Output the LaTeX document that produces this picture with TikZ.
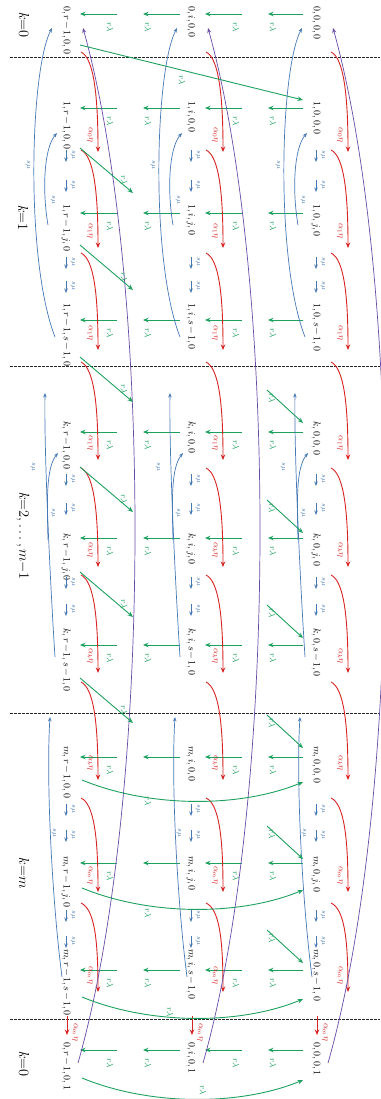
\documentclass[tikz,border=0pt]{standalone}
\usetikzlibrary{arrows.meta}
\definecolor{gr}{RGB}{30,160,95}
\definecolor{rd}{RGB}{215,35,35}
\definecolor{bl}{RGB}{70,120,180}
\definecolor{pu}{RGB}{105,75,165}
\newcommand{\stt}[1]{$\medmuskip=2mu\relax #1$}
\begin{document}
\begin{tikzpicture}[x=1pt,y=-1pt,
  st/.style={rotate=-90,anchor=west,inner sep=0pt,font=\fontsize{10}{12}\selectfont},
  rl/.style={rotate=-90,inner sep=0pt,text=gr,font=\fontsize{9}{10}\selectfont},
  al/.style={rotate=-90,inner sep=0pt,text=rd,font=\fontsize{9}{10}\selectfont},
  sl/.style={rotate=-90,inner sep=0pt,text=bl,font=\fontsize{7.5}{8}\selectfont},
  kl/.style={rotate=-90,inner sep=0pt,font=\fontsize{14}{16}\selectfont},
  garr/.style={draw=gr,line width=0.9pt,-{Stealth[length=5.5pt,width=4.5pt]}},
  rarr/.style={draw=rd,line width=0.9pt,-{Stealth[length=5.5pt,width=4.5pt]}},
  barr/.style={draw=bl,line width=0.7pt,-{Stealth[length=4.5pt,width=3.5pt]}},
  parr/.style={draw=pu,line width=0.7pt,-{Stealth[length=5pt,width=4pt]}},
  dline/.style={draw=black!85,line width=1pt,dash pattern=on 2.5pt off 1.5pt},
]
\useasboundingbox (0,0) rectangle (380,1099);
% dashed separators
\foreach \y in {58,366,713,1019} \draw[dline] (10,\y) -- (380,\y);
% level labels
\node[kl] (k0a) at (24,25) {$k{=}0$};
\node[kl] (k1) at (23,218) {$k{=}1$};
\node[kl] (kk) at (23,536) {$k{=}2,\ldots,m{-}1$};
\node[kl] (km) at (24,873) {$k{=}m$};
\node[kl] (k0b) at (24,1064) {$k{=}0$};
% states
\foreach \r/\y/\p/\q in {1/6/0/{0,0},2/101/1/{0,0},3/204/1/{j,0},4/303/1/{s-1,0},
  5/421/k/{0,0},6/533/k/{j,0},7/628/k/{s-1,0},8/746/m/{0,0},9/856/m/{j,0},
  10/949/m/{s-1,0},11/1042/0/{0,1}}{
  \node[st] (n\r a) at (66,\y) {\stt{\p,r-1,\q}};
  \node[st] (n\r b) at (191,\y) {\stt{\p,i,\q}};
  \node[st] (n\r c) at (316,\y) {\stt{\p,0,\q}};
}
% green vertical r lambda arrows
\foreach \g/\sh in {14/1,108/1,213/1,320/1,432/1,538/1,645/1,757/0,863/0,970/1,1050/1}{
  \draw[garr] (117,\g) -- (80,\g);
  \draw[garr] (180,\g) -- (143,\g);
  \draw[garr] (242,\g) -- (205,\g);
  \draw[garr] (303,\g) -- (268,\g);
  \node[rl] at (110,\g+13) {$r\lambda$};
  \ifnum\sh=1 \node[rl] at (148,\g+13) {$r\lambda$};\fi
  \node[rl] at (236,\g+13) {$r\lambda$};
  \node[rl] at (273,\g+13) {$r\lambda$};
}
% per-column items
\foreach \dx in {0,125,250}{
\begin{scope}[xshift=\dx pt]
  % red curved alpha arrows
  \foreach \sy/\ey/\lab in {52/152/0,150/248/1,253/350/1,362/460/1,468/567/k,575/673/k,682/780/k,798/892/m,903/992/m}{
    \draw[rarr] (81,\sy) .. controls +(13,6) and +(0,-55) .. (98,\ey);
    \node[al] at (90,\ey-17) {$\alpha_{\lab}\eta$};
  }
  \draw[rarr] (67,1016) -- (67,1035);
  \node[al] at (75,1032) {$\alpha_{m}\eta$};
  % purple long arcs
  \draw[parr] (78,1063) .. controls (153,800) and (153,280) .. (83,28);
  % small s mu arrows
  \foreach \a in {150,180,257,281,474,503,577,604,804,830,910,936}{
    \draw[barr] (66,\a) -- (66,\a+12);
    \node[sl] at (73,\a+5) {$s\mu$};
  }
  % blue arcs, level 1
  \draw[barr] (48,225) .. controls (42,190) and (44,148) .. (57,133);
  \node[sl] at (53,200) {$s\mu$};
  \draw[barr] (55,337) .. controls (25,260) and (30,70) .. (52,28);
  \node[sl] at (28,165) {$s\mu$};
  % blue arcs, level k
  \draw[barr] (48,540) .. controls (47,500) and (46,468) .. (58,453);
  \node[sl] at (53,513) {$s\mu$};
  \draw[barr] (55,657) .. controls (50,580) and (44,450) .. (45,393);
  \node[sl] at (33,467) {$s\mu$};
  % blue arcs, level m
  \draw[barr] (62,977) .. controls (52,900) and (46,780) .. (50,717);
  \node[sl] at (54,833) {$s\mu$};
\end{scope}
}
% green diagonal arrows out of r-1 states
\draw[garr] (80,45) -- (303,100);
\node[rl] at (182,80) {$r\lambda$};
\foreach \a in {148,245,357,467,572,678}{
  \draw[garr] (80,\a) -- (133,\a+45);
  \node[rl] at (124,\a+32) {$r\lambda$};
}
% green diagonal arrows into 0 states
\foreach \b in {390,500,605,715,826,930}{
  \draw[garr] (267,\b) -- (303,\b+33);
  \node[rl] at (272,\b+8) {$r\lambda$};
}
% green curved arrows at level m and k=0
\foreach \s in {780,888,997,1078}{
  \draw[garr] (82,\s) .. controls (150,\s+28) and (240,\s+28) .. (303,\s+2);
}
\node[rl] at (148,801) {$r\lambda$};
\node[rl] at (148,913) {$r\lambda$};
\node[rl] at (170,1012) {$r\lambda$};
\node[rl] at (203,1090) {$r\lambda$};
\end{tikzpicture}
\end{document}
